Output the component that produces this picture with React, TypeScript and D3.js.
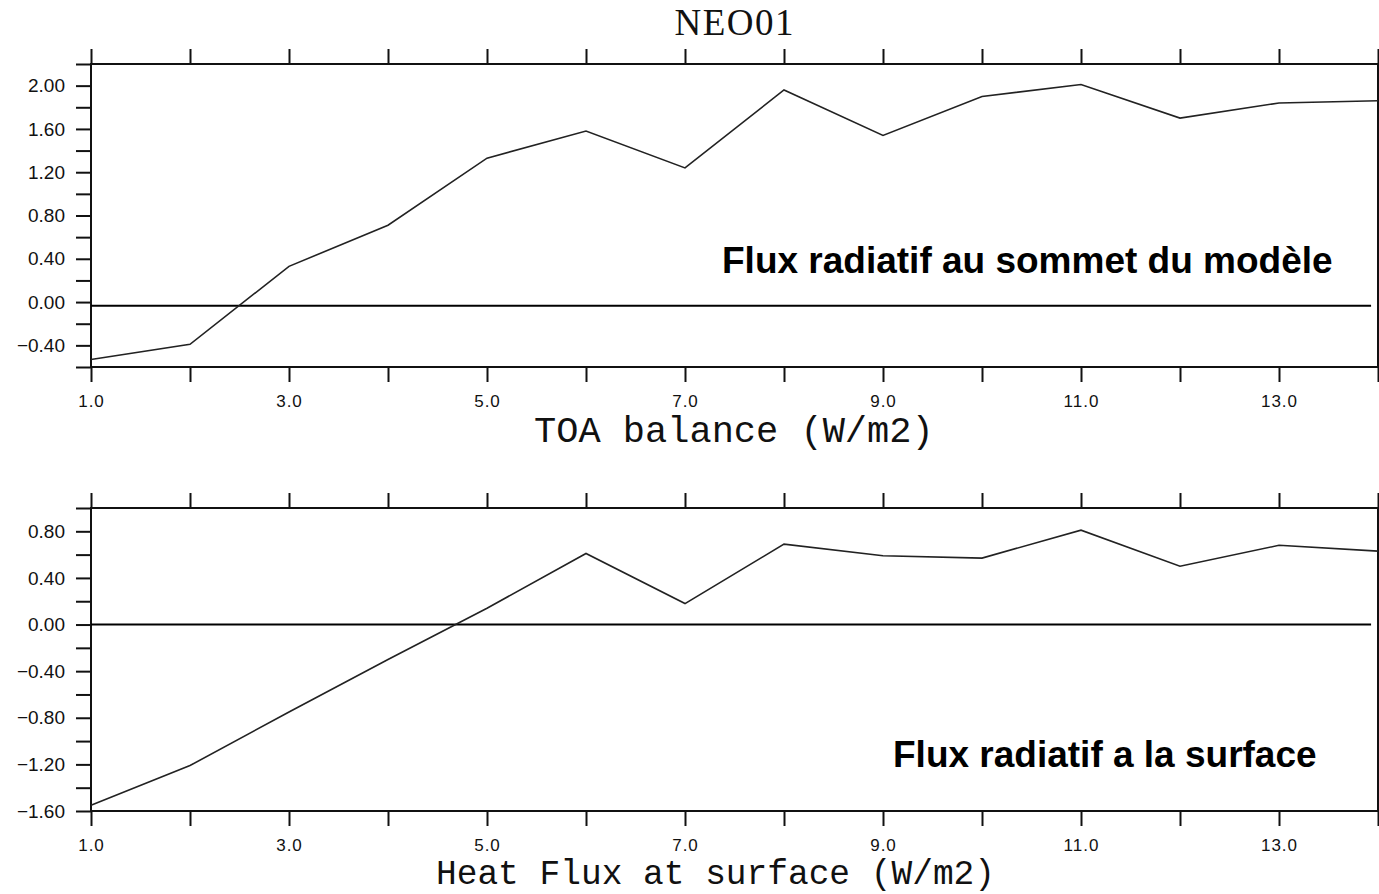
import React, { useEffect, useRef } from 'react';
import * as d3 from 'd3';

// values
const months = [1, 2, 3, 4, 5, 6, 7, 8, 9, 10, 11, 12, 13, 14];
const toaBalance = [-0.53, -0.39, 0.33, 0.71, 1.33, 1.58, 1.24, 1.96, 1.54, 1.90, 2.01, 1.70, 1.84, 1.86];
const heatFlux = [-1.55, -1.21, -0.75, -0.30, 0.14, 0.61, 0.18, 0.69, 0.59, 0.57, 0.81, 0.50, 0.68, 0.63];
const xTickLabels = ['1.0', '3.0', '5.0', '7.0', '9.0', '11.0', '13.0'];
const toaRefLine = -0.035;
const heatRefLine = 0;

const W = 1379;
const H = 894;

const App = () => {
  const ref = useRef<SVGSVGElement>(null);

  useEffect(() => {
    const svg = d3.select(ref.current);
    svg.selectAll('*').remove();

    const x = d3.scaleLinear().domain([1, 14]).range([91, 1378]);

    const drawPanel = (
      top: number,
      bottom: number,
      domain: [number, number],
      tickRange: [number, number],
      values: number[],
      refValue: number,
      axisTitle: string,
      titleX: number,
      titleY: number,
      titleSize: number,
      note: string,
      noteX: number,
      noteY: number
    ) => {
      const y = d3.scaleLinear().domain(domain).range([bottom, top]);
      const g = svg.append('g');

      // ticks every 0.2, labels every 0.4
      const yTicks = d3.range(tickRange[0], tickRange[1] + 1).map(i => i * 0.2);
      const fmt = d3.format('.2f');
      const yAxis = d3.axisLeft(y)
        .tickValues(yTicks)
        .tickSize(15)
        .tickSizeOuter(0)
        .tickPadding(11)
        .tickFormat((d: any, i) => (Math.round(yTicks[i] / 0.2) % 2 === 0 ? fmt(d) : ''));
      const ya = g.append('g').attr('transform', `translate(${x(1)},0)`).call(yAxis);
      ya.select('.domain').remove();
      ya.selectAll('line').attr('stroke', '#111').attr('stroke-width', 2);
      ya.selectAll('text')
        .attr('font-family', '"Liberation Sans", Arial, sans-serif')
        .attr('font-size', 19)
        .attr('fill', '#111');

      const yr = g.append('g').attr('transform', `translate(${x(14)},0)`)
        .call(d3.axisRight(y).tickValues(yTicks).tickSize(15).tickSizeOuter(0).tickFormat(() => ''));
      yr.select('.domain').remove();
      yr.selectAll('line').attr('stroke', '#111').attr('stroke-width', 2);

      const xa = g.append('g').attr('transform', `translate(0,${bottom})`)
        .call(
          d3.axisBottom(x)
            .tickValues(months)
            .tickSize(15)
            .tickSizeOuter(0)
            .tickPadding(13)
            .tickFormat((d: any) => (d % 2 === 1 ? xTickLabels[(d - 1) / 2] : ''))
        );
      xa.select('.domain').remove();
      xa.selectAll('line').attr('stroke', '#111').attr('stroke-width', 2);
      xa.selectAll('text')
        .attr('font-family', '"Liberation Sans", Arial, sans-serif')
        .attr('font-size', 17)
        .attr('letter-spacing', 1)
        .attr('fill', '#111');

      const xt = g.append('g').attr('transform', `translate(0,${top})`)
        .call(d3.axisTop(x).tickValues(months).tickSize(15).tickSizeOuter(0).tickFormat(() => ''));
      xt.select('.domain').remove();
      xt.selectAll('line').attr('stroke', '#111').attr('stroke-width', 2);

      g.append('rect')
        .attr('x', x(1))
        .attr('y', top)
        .attr('width', x(14) - x(1))
        .attr('height', bottom - top)
        .attr('fill', 'none')
        .attr('stroke', '#111')
        .attr('stroke-width', 2);

      g.append('line')
        .attr('x1', x(1))
        .attr('x2', x(13.93))
        .attr('y1', y(refValue))
        .attr('y2', y(refValue))
        .attr('stroke', '#000')
        .attr('stroke-width', 2);

      const line = d3.line<number>()
        .x((d, i) => x(months[i]))
        .y(d => y(d));
      g.append('path')
        .datum(values)
        .attr('d', line)
        .attr('fill', 'none')
        .attr('stroke', '#222')
        .attr('stroke-width', 1.6);

      g.append('text')
        .attr('x', titleX)
        .attr('y', titleY)
        .attr('font-family', '"Liberation Mono", "Courier New", monospace')
        .attr('font-size', titleSize)
        .attr('fill', '#111')
        .text(axisTitle);

      g.append('text')
        .attr('x', noteX)
        .attr('y', noteY)
        .attr('font-family', '"Liberation Sans", Arial, sans-serif')
        .attr('font-weight', 'bold')
        .attr('font-size', 37)
        .attr('fill', '#000')
        .text(note);
    };

    drawPanel(64, 367, [-0.6, 2.2], [-3, 11], toaBalance, toaRefLine,
      'TOA balance (W/m2)', 534, 442, 37, 'Flux radiatif au sommet du modèle', 722, 273);
    drawPanel(508, 811, [-1.6, 1.0], [-8, 5], heatFlux, heatRefLine,
      'Heat Flux at surface (W/m2)', 436, 884, 34.5, 'Flux radiatif a la surface', 893, 767);

    svg.append('text')
      .attr('x', 734)
      .attr('y', 35)
      .attr('text-anchor', 'middle')
      .attr('font-family', '"Liberation Serif", "Times New Roman", serif')
      .attr('font-size', 37)
      .attr('textLength', 119)
      .attr('fill', '#111')
      .text('NEO01');
  }, []);

  return (
    <svg
      ref={ref}
      width={W}
      height={H}
      style={{ position: 'absolute', left: 0, top: 0, background: '#fff' }}
    />
  );
};

export default App;
